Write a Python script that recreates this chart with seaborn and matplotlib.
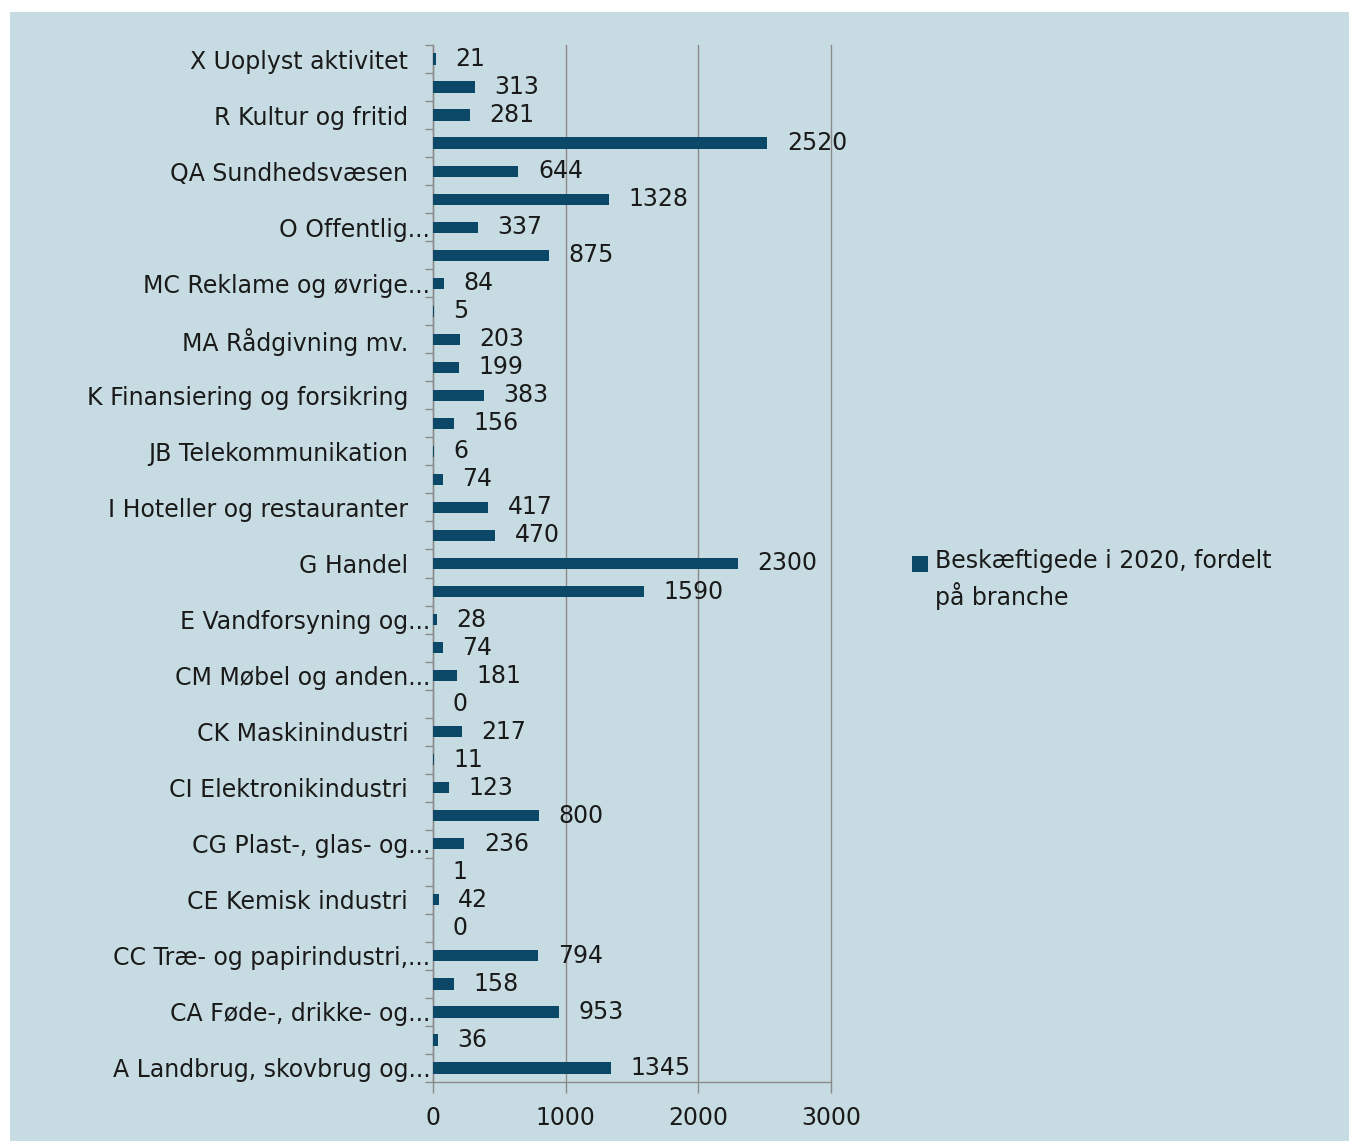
import matplotlib
matplotlib.use("Agg")
import matplotlib.pyplot as plt
import matplotlib.patches as mpatches
from matplotlib.transforms import ScaledTranslation
from matplotlib.legend_handler import HandlerPatch
import seaborn as sns
import pandas as pd

# ---- data (top to bottom as shown) ----
categories = [
    "X Uoplyst aktivitet", "S Andre serviceydelser", "R Kultur og fritid",
    "QB Sociale institutioner", "QA Sundhedsvæsen", "P Undervisning",
    "O Offentlig administration", "N Operationel service", "MC Reklame og øvrige erhvervsservice",
    "MB Forskning og udvikling", "MA Rådgivning mv.", "LA Ejendomshandel og udlejning",
    "K Finansiering og forsikring", "JC IT- og informationstjenester", "JB Telekommunikation",
    "JA Forlag, tv og radio", "I Hoteller og restauranter", "H Transport",
    "G Handel", "F Bygge og anlæg", "E Vandforsyning og renovation",
    "D Energiforsyning", "CM Møbel og anden industri", "CL Transportmiddelindustri",
    "CK Maskinindustri", "CJ Elektrisk udstyr", "CI Elektronikindustri",
    "CH Metalindustri", "CG Plast-, glas- og betonindustri", "CF Medicinalindustri",
    "CE Kemisk industri", "CD Olieraffinaderier mv.", "CC Træ- og papirindustri, trykkerier",
    "CB Tekstil- og læderindustri", "CA Føde-, drikke- og tobaksvareindustri", "B Råstofindvinding",
    "A Landbrug, skovbrug og fiskeri",
]
values = [21, 313, 281, 2520, 644, 1328, 337, 875, 84, 5, 203, 199, 383, 156, 6, 74,
          417, 470, 2300, 1590, 28, 74, 181, 0, 217, 11, 123, 800, 236, 1, 42, 0,
          794, 158, 953, 36, 1345]
tick_labels = [
    "X Uoplyst aktivitet", "", "R Kultur og fritid", "", "QA Sundhedsvæsen", "",
    "O Offentlig...", "", "MC Reklame og øvrige...", "", "MA Rådgivning mv.", "",
    "K Finansiering og forsikring", "", "JB Telekommunikation", "",
    "I Hoteller og restauranter", "", "G Handel", "", "E Vandforsyning og...", "",
    "CM Møbel og anden...", "", "CK Maskinindustri", "", "CI Elektronikindustri", "",
    "CG Plast-, glas- og...", "", "CE Kemisk industri", "", "CC Træ- og papirindustri,...", "",
    "CA Føde-, drikke- og...", "", "A Landbrug, skovbrug og...",
]
x_ticks = [0, 1000, 2000, 3000]
legend_label = "Beskæftigede i 2020, fordelt\npå branche"

BAR = "#0b4767"
BG = "#c7dce2"
GRID = "#8a8a8a"
TXT = "#1a1a1a"
FS = 17

df = pd.DataFrame({"branche": categories, "antal": values})

sns.set_theme(style="white")
plt.rcParams["font.family"] = ["DejaVu Sans"]

fig = plt.figure(figsize=(13.49, 11.41), dpi=100)
fig.patches.append(mpatches.Rectangle((10 / 1349, 0), 1 - 10 / 1349, 1 - 12 / 1141,
                                      transform=fig.transFigure, facecolor=BG,
                                      edgecolor="none", zorder=-10))
ax = fig.add_axes([433 / 1349, 1 - 1082 / 1141, (831 - 433) / 1349, (1082 - 45) / 1141])
ax.set_facecolor("none")

sns.barplot(data=df, y="branche", x="antal", orient="h", color=BAR, width=0.4,
            saturation=1, linewidth=0, ax=ax, zorder=3)

for c in ax.containers:
    ax.bar_label(c, padding=14, fontsize=FS, color=TXT)

ax.set_xlim(0, 3000)
ax.set_xticks(x_ticks)
ax.set_xticklabels([str(t) for t in x_ticks], fontsize=FS, color=TXT)
ax.set_yticks(range(len(categories)))
ax.set_yticklabels(tick_labels, fontsize=FS, color=TXT)
ax.set_ylim(len(categories) - 0.5, -0.5)
ax.set_xlabel("")
ax.set_ylabel("")

ax.tick_params(axis="y", which="major", length=0, pad=2)
ax.set_yticks([i + 0.5 for i in range(-1, len(categories))], minor=True)
ax.tick_params(axis="y", which="minor", length=6, color=GRID, width=1, left=True)
ax.tick_params(axis="x", which="major", length=8, color=GRID, width=1, bottom=True, pad=9)

# non-truncated labels sit a bit further from the axis
shift = ScaledTranslation(-22 / 100, 0, fig.dpi_scale_trans)
for lbl in ax.get_yticklabels():
    if lbl.get_text() and not lbl.get_text().endswith("..."):
        lbl.set_transform(lbl.get_transform() + shift)

ax.grid(axis="x", color=GRID, linewidth=1, zorder=0)
ax.grid(axis="y", visible=False)
for gl in ax.get_xgridlines():
    gl.set_clip_on(False)
for s in ["top", "right"]:
    ax.spines[s].set_visible(False)
for s in ["left", "bottom"]:
    ax.spines[s].set_color(GRID)
    ax.spines[s].set_linewidth(1)


def square_top(legend, orig_handle, xdescent, ydescent, width, height, fontsize):
    side = width
    return mpatches.Rectangle((-xdescent, -ydescent + 0.72 * fontsize - side / 2 + height / 2),
                              side, side)


handle = mpatches.Patch(facecolor=BAR, edgecolor="none", label=legend_label)
leg = fig.legend(handles=[handle], loc="center left", bbox_to_anchor=(0.660, 0.492),
                 frameon=False, fontsize=FS, handlelength=0.7, handleheight=0.7,
                 handletextpad=0.3, labelcolor=TXT,
                 handler_map={mpatches.Patch: HandlerPatch(patch_func=square_top)})
for t in leg.get_texts():
    t.set_linespacing(1.4)

fig.savefig("out.png", dpi=100)
